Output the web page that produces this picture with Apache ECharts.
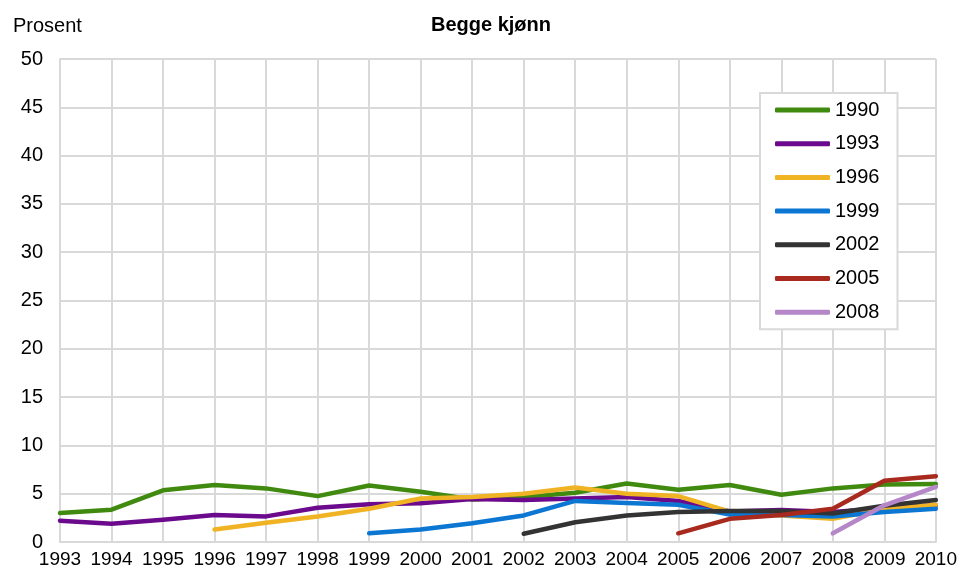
<!DOCTYPE html>
<html>
<head>
<meta charset="utf-8">
<script src="https://cdn.jsdelivr.net/npm/echarts@6/dist/echarts.min.js"></script>
<style>
html,body{margin:0;padding:0;background:#fff;}
#chart{width:960px;height:569px;}
</style>
</head>
<body>
<div id="chart"></div>
<script>
const years = ['1993','1994','1995','1996','1997','1998','1999','2000','2001','2002','2003','2004','2005','2006','2007','2008','2009','2010'];
const yTicks = [0,5,10,15,20,25,30,35,40,45,50];
const s1990 = [3.0,3.35,5.35,5.9,5.55,4.75,5.85,5.2,4.4,4.65,5.1,6.05,5.4,5.9,4.9,5.55,5.95,6.0];
const s1993 = [2.2,1.9,2.3,2.8,2.65,3.55,3.9,4.0,4.45,4.35,4.5,4.65,4.25,3.15,3.3,3.1,3.5,3.8];
const s1996 = [null,null,null,1.3,2.0,2.65,3.45,4.5,4.65,5.0,5.65,5.0,4.75,3.15,2.75,2.4,3.4,3.85];
const s1999 = [null,null,null,null,null,null,0.9,1.3,1.95,2.75,4.25,4.05,3.85,2.85,2.8,2.65,3.1,3.45];
const s2002 = [null,null,null,null,null,null,null,null,null,0.85,2.05,2.75,3.1,3.2,3.2,2.95,3.75,4.35];
const s2005 = [null,null,null,null,null,null,null,null,null,null,null,null,0.9,2.4,2.8,3.45,6.35,6.8];
const s2008 = [null,null,null,null,null,null,null,null,null,null,null,null,null,null,null,0.9,3.8,5.7];
const seriesNames = ['1990','1993','1996','1999','2002','2005','2008'];
const seriesData = [s1990,s1993,s1996,s1999,s2002,s2005,s2008];
const colors = ['#418a10','#6b0a8c','#f0b323','#0b77d3','#333333','#a8291e','#b587c9'];

const FONT = '"Liberation Sans", Arial, sans-serif';
const chart = echarts.init(document.getElementById('chart'));
chart.setOption({
  animation: false,
  textStyle: { fontFamily: FONT },
  title: [
    { text: 'Begge kjønn', left: 426, top: 10, textStyle: { fontSize: 20, fontWeight: 'bold', color: '#000', fontFamily: FONT } },
    { text: 'Prosent', left: 8, top: 11, textStyle: { fontSize: 20, fontWeight: 'normal', color: '#000', fontFamily: FONT } }
  ],
  grid: { left: 60, right: 24, top: 59, bottom: 25, containLabel: false },
  legend: {
    orient: 'vertical',
    left: 760, top: 93,
    data: seriesNames,
    icon: 'roundRect',
    itemWidth: 55, itemHeight: 5,
    itemGap: 13.7,
    padding: [7, 18, 7, 15],
    borderColor: '#d9d9d9', borderWidth: 2,
    backgroundColor: '#fff',
    textStyle: { fontSize: 20, color: '#000', fontFamily: FONT }
  },
  xAxis: {
    type: 'category',
    data: years,
    boundaryGap: false,
    axisLine: { lineStyle: { color: '#d9d9d9', width: 2 } },
    axisTick: { show: false },
    splitLine: { show: true, lineStyle: { color: '#d9d9d9', width: 2 } },
    axisLabel: { interval: 0, fontSize: 19, color: '#000', margin: 8, fontFamily: FONT }
  },
  yAxis: {
    type: 'value',
    min: yTicks[0], max: yTicks[yTicks.length-1], interval: 5,
    axisLine: { show: true, lineStyle: { color: '#d9d9d9', width: 2 } },
    axisTick: { show: false },
    splitLine: { show: true, lineStyle: { color: '#d9d9d9', width: 2 } },
    axisLabel: { fontSize: 20, color: '#000', margin: 17, fontFamily: FONT }
  },
  series: seriesNames.map((n, i) => ({
    name: n,
    type: 'line',
    data: seriesData[i],
    showSymbol: false,
    symbol: 'none',
    connectNulls: false,
    color: colors[i],
    lineStyle: { width: 4.5, color: colors[i], cap: 'round', join: 'round' },
    itemStyle: { color: colors[i] }
  }))
});
</script>
</body>
</html>
